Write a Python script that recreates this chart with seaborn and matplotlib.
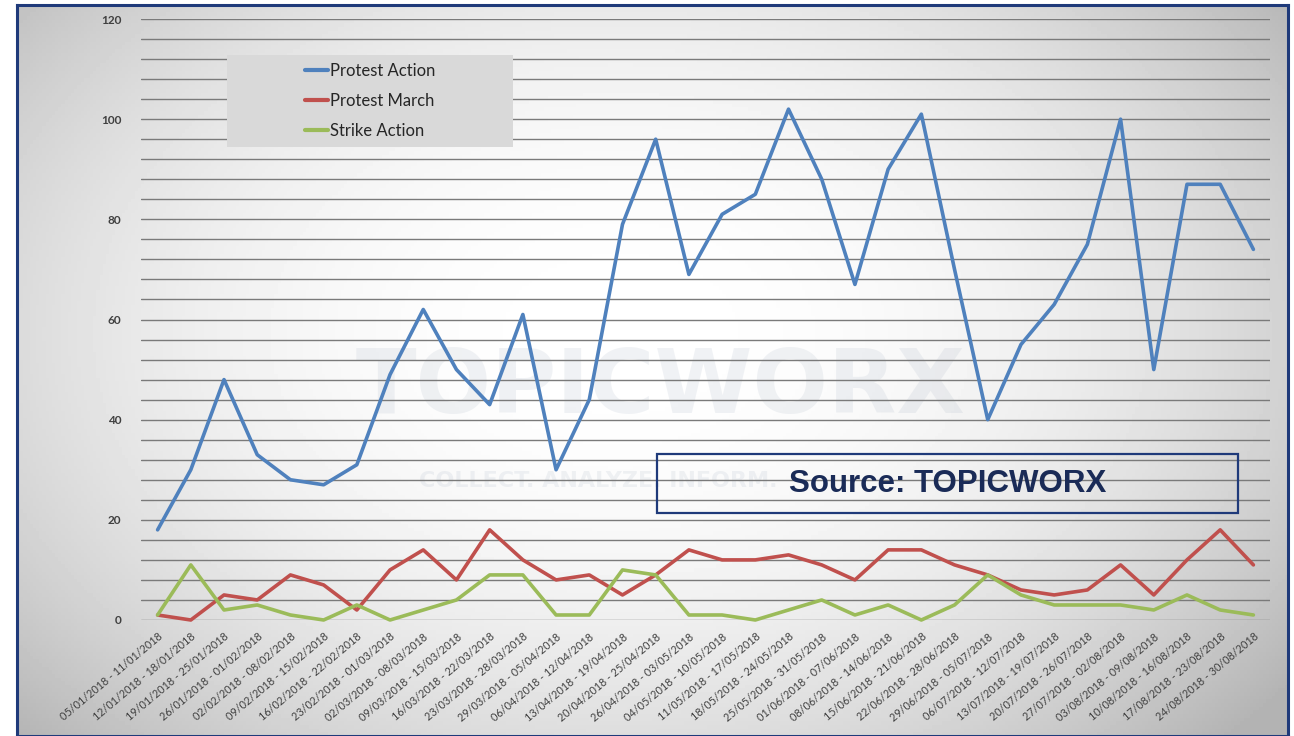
import numpy as np
import pandas as pd
import seaborn as sns
import matplotlib.pyplot as plt
from matplotlib.patches import Rectangle

# weekly periods (x axis)
weeks = [
    "05/01/2018 - 11/01/2018", "12/01/2018 - 18/01/2018", "19/01/2018 - 25/01/2018",
    "26/01/2018 - 01/02/2018", "02/02/2018 - 08/02/2018", "09/02/2018 - 15/02/2018",
    "16/02/2018 - 22/02/2018", "23/02/2018 - 01/03/2018", "02/03/2018 - 08/03/2018",
    "09/03/2018 - 15/03/2018", "16/03/2018 - 22/03/2018", "23/03/2018 - 28/03/2018",
    "29/03/2018 - 05/04/2018", "06/04/2018 - 12/04/2018", "13/04/2018 - 19/04/2018",
    "20/04/2018 - 25/04/2018", "26/04/2018 - 03/05/2018", "04/05/2018 - 10/05/2018",
    "11/05/2018 - 17/05/2018", "18/05/2018 - 24/05/2018", "25/05/2018 - 31/05/2018",
    "01/06/2018 - 07/06/2018", "08/06/2018 - 14/06/2018", "15/06/2018 - 21/06/2018",
    "22/06/2018 - 28/06/2018", "29/06/2018 - 05/07/2018", "06/07/2018 - 12/07/2018",
    "13/07/2018 - 19/07/2018", "20/07/2018 - 26/07/2018", "27/07/2018 - 02/08/2018",
    "03/08/2018 - 09/08/2018", "10/08/2018 - 16/08/2018", "17/08/2018 - 23/08/2018",
    "24/08/2018 - 30/08/2018",
]

protest_action = [18, 30, 48, 33, 28, 27, 31, 49, 62, 50, 43, 61, 30, 44, 79, 96, 69,
                  81, 85, 102, 88, 67, 90, 101, 70, 40, 55, 63, 75, 100, 50, 87, 87, 74]
protest_march = [1, 0, 5, 4, 9, 7, 2, 10, 14, 8, 18, 12, 8, 9, 5, 9, 14,
                 12, 12, 13, 11, 8, 14, 14, 11, 9, 6, 5, 6, 11, 5, 12, 18, 11]
strike_action = [1, 11, 2, 3, 1, 0, 3, 0, 2, 4, 9, 9, 1, 1, 10, 9, 1,
                 1, 0, 2, 4, 1, 3, 0, 3, 9, 5, 3, 3, 3, 2, 5, 2, 1]

series_names = ["Protest Action", "Protest March", "Strike Action"]
series_colors = ["#4f81bd", "#c0504d", "#9bbb59"]

df = pd.DataFrame({
    "week": list(range(len(weeks))) * 3,
    "count": protest_action + protest_march + strike_action,
    "series": [s for s in series_names for _ in weeks],
})

sns.set_theme(style="white")
plt.rcParams["font.family"] = ["Lato", "DejaVu Sans"]

fig = plt.figure(figsize=(12.94, 7.36), dpi=100)
fig.patch.set_facecolor("white")

# gradient backdrop inside the navy frame
bg = fig.add_axes([17 / 1294, 0, 1271 / 1294, 1 - 5 / 736])
yy, xx = np.mgrid[-1:1:200j, -1:1:400j]
r = np.sqrt(((xx + 0.05) * 0.9) ** 2 + ((yy + 0.1) * 0.75) ** 2)
bg.imshow(1 - 0.2 * np.clip(r, 0, 1.2) ** 2.2, cmap="gray", vmin=0, vmax=1,
          aspect="auto", extent=[0, 1, 0, 1])
bg.set_xlim(0, 1)
bg.set_ylim(0, 1)
bg.set_xticks([])
bg.set_yticks([])
for sp in bg.spines.values():
    sp.set_color("#1f3a7a")
    sp.set_linewidth(2.2)

ax = fig.add_axes([141 / 1294, 1 - 620 / 736, 1129 / 1294, 601 / 736])
ax.set_facecolor("none")

# faint watermark
ax.text(0.46, 0.385, "TOPICWORX", transform=ax.transAxes, ha="center", va="center",
        fontsize=64, fontweight="bold", family="DejaVu Sans", color="#9aa8bc",
        alpha=0.14, zorder=0)
ax.text(0.405, 0.232, "COLLECT. ANALYZE. INFORM.", transform=ax.transAxes, ha="center",
        va="center", fontsize=16, fontweight="bold", family="DejaVu Sans",
        color="#9aa8bc", alpha=0.14, zorder=0)

sns.lineplot(data=df, x="week", y="count", hue="series", hue_order=series_names,
             palette=series_colors, linewidth=2.6, ax=ax, legend=False, zorder=3)
for ln in ax.lines:
    ln.set_clip_on(False)

ax.set_xlim(-0.5, len(weeks) - 0.5)
ax.set_ylim(0, 120)
ax.set_yticks(range(0, 121, 20))
ax.set_yticks(range(0, 121, 4), minor=True)
ax.grid(True, axis="y", which="both", color="#7a7a7a", linewidth=1.0, zorder=1)
ax.set_axisbelow(True)
for sp in ax.spines.values():
    sp.set_visible(False)

ax.set_xticks(range(len(weeks)))
ax.set_xticklabels(weeks, rotation=40, ha="right", rotation_mode="anchor",
                   fontsize=7.8, color="#404040")
ax.tick_params(axis="x", length=0, pad=8)
ax.tick_params(axis="y", which="both", length=0, pad=14, labelsize=8.5,
               labelcolor="#404040")
for lab in ax.get_yticklabels():
    lab.set_fontweight("bold")
ax.set_xlabel("")
ax.set_ylabel("")

# legend box
ax.add_patch(Rectangle((0.076, 0.787), 0.2535, 0.153, transform=ax.transAxes,
                       facecolor="#d9d9d9", edgecolor="none", zorder=4))
handles = [plt.Line2D([], [], color=c, linewidth=3) for c in series_colors]
leg = ax.legend(handles, series_names, loc="center",
                bbox_to_anchor=(0.076 + 0.2535 / 2, 0.787 + 0.153 / 2),
                frameon=False, fontsize=12, handlelength=1.4, handletextpad=0.1,
                labelspacing=0.85, borderpad=0)
leg.set_zorder(5)
for t in leg.get_texts():
    t.set_color("#262626")

# source box
ax.add_patch(Rectangle((0.457, 0.178), 0.5147, 0.098, transform=ax.transAxes,
                       facecolor="none", edgecolor="#1f3a7a", linewidth=1.6, zorder=4))
ax.text(0.7145, 0.226, "Source: TOPICWORX", transform=ax.transAxes, ha="center",
        va="center", fontsize=22.5, fontweight="bold", family="Liberation Sans",
        color="#1a2b57", zorder=5)

fig.savefig("out.png", dpi=100)
